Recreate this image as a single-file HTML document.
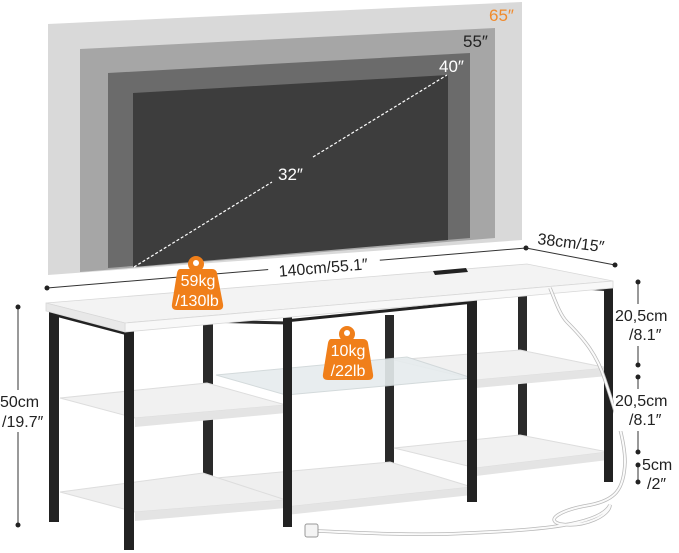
<!DOCTYPE html>
<html><head><meta charset="utf-8"><style>
html,body{margin:0;padding:0;background:#fff;}
svg{display:block;font-family:"Liberation Sans",sans-serif;}
</style></head><body>
<svg width="679" height="553" viewBox="0 0 679 553" xmlns="http://www.w3.org/2000/svg">
<!-- TV panels -->
<polygon points="48,24 522,2 522,240 48,275" fill="#d9d9d9"/>
<polygon points="80,49 495,28 495,238 80,272" fill="#a6a6a6"/>
<polygon points="108,73 470,53 470,238 108,268" fill="#6b6b6b"/>
<polygon points="133,93 448,75 448,240 133,267" fill="#3d3d3d"/>
<line x1="134" y1="267" x2="272" y2="182" stroke="#fff" stroke-width="1.2" stroke-dasharray="3,2"/>
<line x1="313" y1="157" x2="447" y2="75" stroke="#fff" stroke-width="1.2" stroke-dasharray="3,2"/>
<text x="489" y="21" font-size="17" fill="#f08a2c">65″</text>
<text x="463" y="47" font-size="17" fill="#222">55″</text>
<text x="439" y="72" font-size="17" fill="#fff">40″</text>
<text x="278" y="180" font-size="17" fill="#fff">32″</text>
<!-- dimension lines -->
<line x1="47" y1="288" x2="526" y2="248" stroke="#333" stroke-width="1"/>
<circle cx="47" cy="288" r="2.5" fill="#222"/><circle cx="526" cy="248" r="2.5" fill="#222"/>
<rect x="268" y="256" width="112" height="20" fill="#fff" transform="rotate(-4.8 323 265)"/>
<text x="323" y="273" font-size="16" fill="#222" text-anchor="middle" transform="rotate(-4.8 323 265)">140cm/55.1″</text>
<line x1="526" y1="248" x2="615" y2="265" stroke="#333" stroke-width="1"/>
<circle cx="615" cy="265" r="2.5" fill="#222"/>
<text x="537" y="244" font-size="16" fill="#222" transform="rotate(7 537 244)">38cm/15″</text>
<!-- back legs -->
<rect x="203" y="320" width="10" height="158" fill="#2a2a2a"/>
<rect x="385" y="315" width="9" height="148" fill="#2a2a2a"/>
<rect x="518" y="290" width="9" height="165" fill="#2a2a2a"/>
<line x1="204" y1="321" x2="288" y2="323" stroke="#2a2a2a" stroke-width="3"/>
<line x1="584" y1="288" x2="612" y2="290" stroke="#2a2a2a" stroke-width="3"/>
<!-- shelves back -->
<polygon points="394,360 520,350 608,368 476,380" fill="#f1f1f1" stroke="#ddd"/>
<polygon points="476,380 608,368 608,376 476,388" fill="#e4e4e4"/>
<polygon points="216,375 407,357 472,378 286,395" fill="#e6ecee" opacity="0.9" stroke="#cfd6d8"/>
<polygon points="394,448 520,435 608,452 476,468" fill="#f1f1f1" stroke="#ddd"/>
<polygon points="476,468 608,452 608,460 476,476" fill="#e4e4e4"/>
<polygon points="216,478 390,462 472,487 286,507" fill="#efefef" stroke="#ddd"/>
<polygon points="286,507 472,487 472,495 286,515" fill="#e4e4e4"/>
<polygon points="60,398 207,383 286,405 135,418" fill="#f1f1f1" stroke="#ddd"/>
<polygon points="135,418 286,405 286,413 135,427" fill="#e4e4e4"/>
<polygon points="60,492 203,473 286,500 135,512" fill="#efefef" stroke="#ddd"/>
<polygon points="135,512 286,500 286,508 135,521" fill="#e4e4e4"/>
<!-- front legs & frames -->
<rect x="49" y="310" width="10" height="212" fill="#222"/>
<line x1="52" y1="314" x2="128" y2="334" stroke="#222" stroke-width="3"/>
<rect x="124" y="328" width="10" height="222" fill="#222"/>
<rect x="283" y="316" width="9" height="211" fill="#222"/>
<rect x="467" y="298" width="10" height="204" fill="#222"/>
<line x1="285" y1="321" x2="474" y2="302" stroke="#222" stroke-width="3"/>
<rect x="604" y="285" width="9" height="197" fill="#222"/>
<!-- tabletop -->
<polygon points="46,303 527,264 613,281 125,323" fill="#f3f3f3" stroke="#d8d8d8" stroke-width="0.8"/>
<polygon points="125,323 613,281 613,288 125,332" fill="#f8f8f8" stroke="#d8d8d8" stroke-width="0.8"/>
<polygon points="46,303 125,323 125,332 46,311" fill="#e8e8e8" stroke="#d8d8d8" stroke-width="0.8"/>
<polygon points="433,271 466,268 468,272 435,275" fill="#222"/>
<!-- cable -->
<path id="c" d="M550,288 C555,300 560,315 567,322 C585,340 597,355 605,380 C615,410 625,440 625,462 C624,490 615,500 590,505 C560,510 545,520 560,524 C585,528 610,515 610,505 C600,525 540,530 470,533 C420,536 360,533 318,531" fill="none" stroke="#b8b8b8" stroke-width="3.5"/>
<path d="M550,288 C555,300 560,315 567,322 C585,340 597,355 605,380 C615,410 625,440 625,462 C624,490 615,500 590,505 C560,510 545,520 560,524 C585,528 610,515 610,505 C600,525 540,530 470,533 C420,536 360,533 318,531" fill="none" stroke="#fafafa" stroke-width="2"/>
<rect x="305" y="524" width="13" height="13" rx="2" fill="#f4f4f4" stroke="#999"/>
<!-- weight badges -->
<g fill="#f07f1a">
<circle cx="196" cy="264" r="8"/>
<path d="M180,269 L212,269 Q216,269 217,273 L223,304 Q224,310 218,310 L177,310 Q171,310 172,304 L177,273 Q178,269 180,269Z"/>
<circle cx="347" cy="334" r="8"/>
<path d="M331,339 L363,339 Q367,339 368,343 L373,374 Q374,380 368,380 L328,380 Q322,380 323,374 L328,343 Q329,339 331,339Z"/>
</g>
<circle cx="196" cy="263" r="3" fill="#fff"/><circle cx="347" cy="333" r="3" fill="#fff"/>
<g fill="#fff" font-size="16" text-anchor="middle">
<text x="198" y="286">59kg</text><text x="197" y="306">/130lb</text>
<text x="348" y="356">10kg</text><text x="348" y="376">/22lb</text>
</g>
<!-- left height -->
<line x1="18" y1="307" x2="18" y2="525" stroke="#333"/>
<circle cx="18" cy="307" r="2.5" fill="#222"/><circle cx="18" cy="525" r="2.5" fill="#222"/>
<rect x="0" y="390" width="46" height="42" fill="#fff"/>
<text x="0" y="407" font-size="16" fill="#222">50cm</text>
<text x="2" y="427" font-size="16" fill="#222">/19.7″</text>
<!-- right heights -->
<line x1="638" y1="282" x2="638" y2="365" stroke="#333"/>
<line x1="638" y1="377" x2="638" y2="452" stroke="#333"/>
<line x1="638" y1="465" x2="638" y2="482" stroke="#333"/>
<g fill="#222"><circle cx="638" cy="282" r="2.5"/><circle cx="638" cy="365" r="2.5"/><circle cx="638" cy="377" r="2.5"/><circle cx="638" cy="452" r="2.5"/><circle cx="638" cy="465" r="2.5"/><circle cx="638" cy="482" r="2.5"/></g>
<rect x="614" y="304" width="65" height="42" fill="#fff"/>
<rect x="614" y="389" width="65" height="42" fill="#fff"/>
<rect x="641" y="455" width="38" height="38" fill="#fff"/>
<g font-size="16" fill="#222">
<text x="615" y="321">20,5cm</text><text x="629" y="340">/8.1″</text>
<text x="615" y="406">20,5cm</text><text x="629" y="425">/8.1″</text>
<text x="642" y="470">5cm</text><text x="647" y="489">/2″</text>
</g>
</svg>
</body></html>
